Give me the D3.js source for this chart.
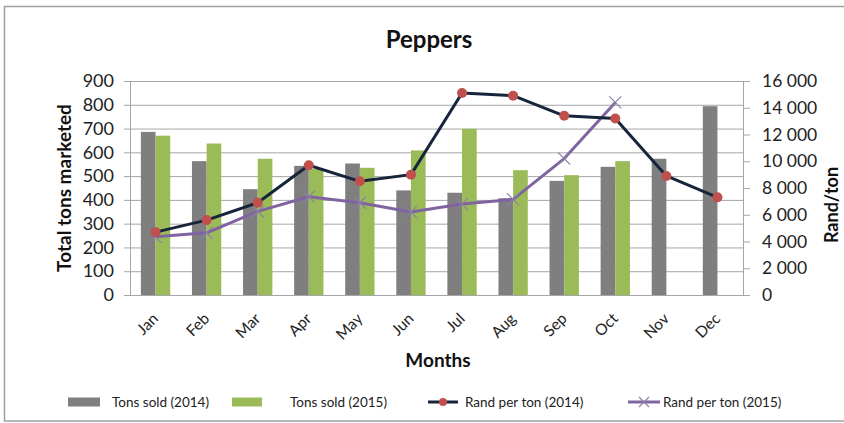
<!DOCTYPE html>
<html>
<head>
<meta charset="utf-8">
<script src="https://cdn.jsdelivr.net/npm/d3@7"></script>
<style>
  html, body { margin: 0; padding: 0; background: #fff; }
  svg { display: block; font-family: Lato, "Liberation Sans", sans-serif; }
</style>
</head>
<body>
<svg id="chart" width="844" height="423"></svg>
<script>
const months = ["Jan","Feb","Mar","Apr","May","Jun","Jul","Aug","Sep","Oct","Nov","Dec"];
const tons2014 = [686, 563, 445, 543, 553, 440, 430, 407, 480, 539, 573, 794];
const tons2015 = [670, 637, 573, 530, 535, 608, 699, 525, 504, 563, null, null];
const rand2014 = [4700, 5600, 6900, 9700, 8500, 9000, 15100, 14900, 13400, 13200, 8900, 7300];
const rand2015 = [4350, 4650, 6250, 7350, 6900, 6200, 6800, 7150, 10200, 14400, null, null];
const leftTicks = [0,100,200,300,400,500,600,700,800,900];
const rightTicks = [0,2000,4000,6000,8000,10000,12000,14000,16000];
const legendLabels = ["Tons sold (2014)", "Tons sold (2015)", "Rand per ton (2014)", "Rand per ton (2015)"];

const svg = d3.select("#chart");
const L = 130, R = 743, T = 81, B = 295;

// frame
svg.append("rect").attr("x", 4.5).attr("y", 6.5).attr("width", 860).attr("height", 414.5)
  .attr("fill", "none").attr("stroke", "#a0a0a0").attr("stroke-width", 1.5);

const x = d3.scaleBand().domain(months).range([L, R]).paddingInner(0.426).paddingOuter(0.213);
const xs = d3.scaleBand().domain(["2014","2015"]).range([0, x.bandwidth()]);
const xc = m => x(m) + x.bandwidth() / 2;
const yL = d3.scaleLinear().domain([0, 900]).range([B, T]);
const yR = d3.scaleLinear().domain([0, 16000]).range([B, T]);

const gridColor = "#a6a6a6";
// gridlines + left axis ticks
const gl = svg.append("g").attr("transform", `translate(${L},0)`)
  .call(d3.axisLeft(yL).tickValues(leftTicks).tickSize(6).tickSizeOuter(0).tickPadding(10));
gl.select(".domain").attr("stroke", gridColor);
gl.selectAll(".tick line").attr("stroke", gridColor);
gl.selectAll(".tick").append("line").attr("x1", 0).attr("x2", R - L).attr("stroke", gridColor);
gl.selectAll(".tick text").attr("font-size", 18).attr("fill", "#222").attr("font-family", "Lato, sans-serif");

// right axis
const fmtR = v => v === 0 ? "0" : d3.format(",")(v).replace(/,/g, " ");
const gr = svg.append("g").attr("transform", `translate(${R},0)`)
  .call(d3.axisRight(yR).tickValues(rightTicks).tickSize(7).tickSizeOuter(0).tickPadding(12).tickFormat(fmtR));
gr.select(".domain").attr("stroke", gridColor);
gr.selectAll(".tick line").attr("stroke", gridColor);
gr.selectAll(".tick text").attr("font-size", 17.5).attr("fill", "#222").attr("font-family", "Lato, sans-serif");

// bars
const bars = svg.append("g");
bars.selectAll(".b14").data(months.map((m, i) => ({m, v: tons2014[i]})).filter(d => d.v != null))
  .join("rect").attr("x", d => x(d.m) + xs("2014")).attr("width", xs.bandwidth())
  .attr("y", d => yL(d.v)).attr("height", d => B - yL(d.v)).attr("fill", "#7f7f7f");
bars.selectAll(".b15").data(months.map((m, i) => ({m, v: tons2015[i]})).filter(d => d.v != null))
  .join("rect").attr("x", d => x(d.m) + xs("2015")).attr("width", xs.bandwidth())
  .attr("y", d => yL(d.v)).attr("height", d => B - yL(d.v)).attr("fill", "#9bbb59");

// bottom axis
const gb = svg.append("g").attr("transform", `translate(0,${B})`)
  .call(d3.axisBottom(x).tickSize(0).tickSizeOuter(0).tickFormat(""));
gb.select(".domain").attr("stroke", gridColor);
gb.selectAll(".tick text").remove();
svg.append("g").selectAll("text").data(months).join("text")
  .attr("transform", m => `translate(${xc(m) - 4},${B + 17}) rotate(-45)`)
  .attr("text-anchor", "end").attr("dy", "0.7em").attr("font-size", 15.5).attr("fill", "#222")
  .text(m => m);

// lines
const d14 = months.map((m, i) => ({m, v: rand2014[i]})).filter(d => d.v != null);
const d15 = months.map((m, i) => ({m, v: rand2015[i]})).filter(d => d.v != null);
const line = d3.line().x(d => xc(d.m)).y(d => yR(d.v));
svg.append("path").datum(d15).attr("d", line).attr("fill", "none").attr("stroke", "#8064a2").attr("stroke-width", 3).attr("stroke-linejoin", "round");
svg.append("g").selectAll("path").data(d15).join("path")
  .attr("transform", d => `translate(${xc(d.m)},${yR(d.v)})`)
  .attr("d", "M-6,-6L6,6M-6,6L6,-6").attr("stroke", "#8c7fa6").attr("stroke-width", 1.2).attr("fill", "none");
svg.append("path").datum(d14).attr("d", line).attr("fill", "none").attr("stroke", "#17253a").attr("stroke-width", 3).attr("stroke-linejoin", "round");
svg.append("g").selectAll("circle").data(d14).join("circle")
  .attr("cx", d => xc(d.m)).attr("cy", d => yR(d.v)).attr("r", 5).attr("fill", "#c0504d");

// titles
svg.append("text").attr("x", 429).attr("y", 48).attr("text-anchor", "middle")
  .attr("font-size", 24).attr("font-weight", "bold").attr("fill", "#111").text("Peppers");
svg.append("text").attr("transform", "translate(71,188) rotate(-90)").attr("text-anchor", "middle")
  .attr("font-size", 19).attr("font-weight", "bold").attr("fill", "#111").text("Total tons marketed");
svg.append("text").attr("transform", "translate(838,205) rotate(-90)").attr("text-anchor", "middle")
  .attr("font-size", 18).attr("font-weight", "bold").attr("fill", "#111").text("Rand/ton");
svg.append("text").attr("x", 438).attr("y", 367).attr("text-anchor", "middle")
  .attr("font-size", 19).attr("font-weight", "bold").attr("fill", "#111").text("Months");

// legend
const lg = svg.append("g");
const ly = 402;
const swX = [68, 232, 428, 628], txX = [112, 290, 465, 663];
lg.append("rect").attr("x", swX[0]).attr("y", ly - 4.5).attr("width", 32).attr("height", 9).attr("fill", "#7f7f7f");
lg.append("rect").attr("x", swX[1]).attr("y", ly - 4.5).attr("width", 30).attr("height", 9).attr("fill", "#9bbb59");
lg.append("line").attr("x1", swX[2]).attr("x2", swX[2] + 30).attr("y1", ly).attr("y2", ly).attr("stroke", "#17253a").attr("stroke-width", 3);
lg.append("circle").attr("cx", swX[2] + 15).attr("cy", ly).attr("r", 4).attr("fill", "#c0504d");
lg.append("line").attr("x1", swX[3]).attr("x2", swX[3] + 32).attr("y1", ly).attr("y2", ly).attr("stroke", "#8064a2").attr("stroke-width", 3);
lg.append("path").attr("transform", `translate(${swX[3] + 16},${ly})`).attr("d", "M-5,-5L5,5M-5,5L5,-5").attr("stroke", "#8c7fa6").attr("stroke-width", 1.2);
lg.selectAll("text").data(legendLabels).join("text")
  .attr("x", (d, i) => txX[i]).attr("y", ly).attr("dy", "0.35em").attr("font-size", 13.5).attr("fill", "#222").text(d => d);
</script>
</body>
</html>
